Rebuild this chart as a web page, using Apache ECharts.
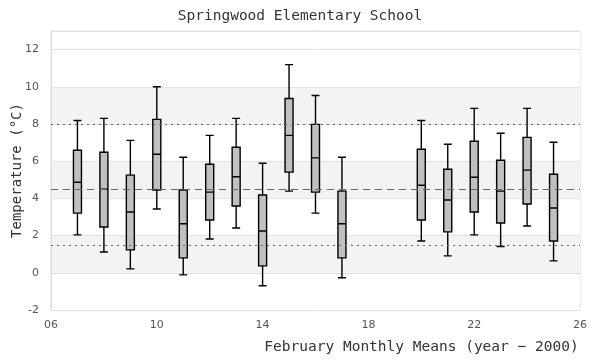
<!DOCTYPE html>
<html>
<head>
<meta charset="utf-8">
<script src="https://cdn.jsdelivr.net/npm/echarts@6/dist/echarts.min.js"></script>
<style>html,body{margin:0;padding:0;background:#fff;}#chart{width:600px;height:360px;}</style>
</head>
<body>
<div id="chart"></div>
<script>
const years   = [7, 8, 9, 10, 11, 12, 13, 14, 15, 16, 17, 20, 21, 22, 23, 24, 25];
const mins    = [2.04, 1.12, 0.21, 3.43, -0.11, 1.82, 2.41, -0.70, 4.39, 3.21, -0.27, 1.71, 0.91, 2.04, 1.41, 2.52, 0.64];
const q1s     = [3.21, 2.46, 1.23, 4.45, 0.80, 2.84, 3.59, 0.37, 5.41, 4.34, 0.80, 2.84, 2.20, 3.27, 2.68, 3.70, 1.71];
const medians = [4.87, 4.50, 3.27, 6.37, 2.64, 4.34, 5.16, 2.25, 7.39, 6.18, 2.64, 4.71, 3.91, 5.14, 4.39, 5.52, 3.48];
const q3s     = [6.59, 6.48, 5.25, 8.25, 4.45, 5.84, 6.75, 4.18, 9.37, 7.98, 4.39, 6.64, 5.57, 7.07, 6.05, 7.28, 5.30];
const maxs    = [8.19, 8.30, 7.12, 10.0, 6.21, 7.39, 8.30, 5.89, 11.19, 9.53, 6.21, 8.19, 6.91, 8.84, 7.50, 8.84, 7.02];
const refLow = 1.5, refMean = 4.5, refHigh = 8.0;
const titleText = 'Springwood Elementary School';
const xName = 'February Monthly Means (year \u2212 2000)';
const yName = 'Temperature (\u00b0C)';

const boxData = years.map((y, i) => [y, mins[i], q1s[i], medians[i], q3s[i], maxs[i]]);
const mono = '"DejaVu Sans Mono", monospace';
const sans = '"DejaVu Sans", sans-serif';

const chart = echarts.init(document.getElementById('chart'), null, {renderer: 'canvas'});
chart.setOption({
  animation: false,
  backgroundColor: '#fff',
  title: {
    text: titleText, left: 'center', top: 4,
    textStyle: {fontFamily: mono, fontSize: 14.5, fontWeight: 'normal', color: '#333'}
  },
  grid: {left: 51, right: 20, top: 31, bottom: 50, outerBoundsMode: 'none', containLabel: false,
    show: true, borderColor: '#ddd', borderWidth: 1, backgroundColor: 'transparent'},
  xAxis: {
    type: 'value', min: 6, max: 26, interval: 4,
    name: xName, nameLocation: 'middle', nameGap: 30, nameMoveOverlap: false,
    nameTextStyle: {fontFamily: mono, fontSize: 14.5, color: '#333', padding: [0, 0, 0, 212]},
    axisLine: {show: true, lineStyle: {color: '#ddd'}},
    axisTick: {show: false},
    splitLine: {show: false},
    axisLabel: {margin: 10, fontFamily: sans, fontSize: 11, color: '#555',
      formatter: v => String(v).padStart(2, '0')}
  },
  yAxis: {
    type: 'value', min: -2, max: 13, interval: 2,
    name: yName, nameLocation: 'middle', nameGap: 27, nameMoveOverlap: false,
    nameTextStyle: {fontFamily: mono, fontSize: 14, color: '#333'},
    axisLine: {show: true, lineStyle: {color: '#ddd'}},
    axisTick: {show: false},
    axisLabel: {margin: 12, fontFamily: sans, fontSize: 11, color: '#555', showMaxLabel: false},
    splitLine: {show: true, lineStyle: {color: '#e2e2e2', width: 1}},
    splitArea: {show: true, areaStyle: {color: ['#fff', '#f3f3f3', '#fff', '#f3f3f3', '#fff', '#f3f3f3', '#fff', '#fff']}}
  },
  series: [{
    type: 'boxplot',
    layout: 'horizontal',
    boxWidth: [8, 8],
    data: boxData,
    itemStyle: {color: '#c0c0c0', borderColor: '#000', borderWidth: 1.4},
    emphasis: {disabled: true},
    markLine: {
      silent: true, symbol: 'none', label: {show: false},
      data: [
        {yAxis: refHigh, lineStyle: {type: [2, 4], color: '#666', width: 1.2}},
        {yAxis: refMean, lineStyle: {type: [7, 5], color: '#666', width: 1.2}},
        {yAxis: refLow, lineStyle: {type: [2, 4], color: '#666', width: 1.2}}
      ]
    }
  }]
});
</script>
</body>
</html>
